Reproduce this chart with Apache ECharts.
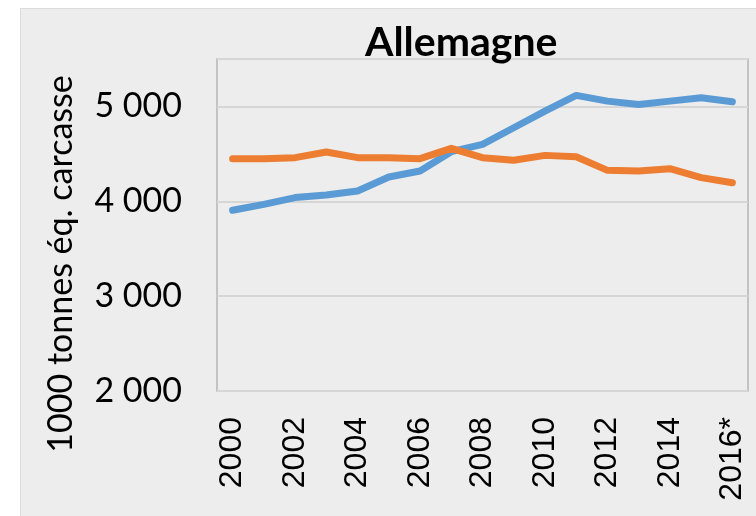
<!DOCTYPE html>
<html>
<head>
<meta charset="utf-8">
<script src="https://cdn.jsdelivr.net/npm/echarts@6/dist/echarts.min.js"></script>
<style>
html, body { margin: 0; padding: 0; background: #ffffff; }
#panel { position: absolute; left: 20px; top: 8px; width: 740px; height: 512px; background: #ededed; border: 1px solid #dcdcdc; }
#chart { position: absolute; left: 0; top: 0; width: 756px; height: 516px; }
</style>
</head>
<body>
<div id="panel"></div>
<div id="chart"></div>
<script>
// années (2016 = estimation)
var years = ['2000', '2001', '2002', '2003', '2004', '2005', '2006', '2007', '2008',
  '2009', '2010', '2011', '2012', '2013', '2014', '2015', '2016*'];
// série bleue
var blueValues = [3905, 3968, 4039, 4067, 4109, 4256, 4319, 4523, 4600,
  4775, 4951, 5116, 5056, 5021, 5056, 5091, 5049];
// série orange
var orangeValues = [4449, 4449, 4460, 4519, 4460, 4460, 4449, 4558, 4460,
  4432, 4484, 4470, 4326, 4319, 4344, 4249, 4196];
var yTicks = [2000, 3000, 4000, 5000];

var myChart = echarts.init(document.getElementById('chart'));

function fmt(v) {
  if (yTicks.indexOf(v) < 0) return '';
  return String(v).replace(/\B(?=(\d{3})+(?!\d))/g, ' ');
}

myChart.setOption({
  backgroundColor: 'transparent',
  animation: false,
  title: {
    text: 'Allemagne',
    left: 360,
    top: 17,
    textStyle: { fontFamily: 'Lato', fontWeight: 'bold', fontSize: 41, color: '#000' }
  },
  graphic: [{
    type: 'text',
    x: 61,
    y: 264,
    rotation: Math.PI / 2,
    style: {
      text: '1000 tonnes éq. carcasse',
      fontFamily: 'Lato',
      fontSize: 34,
      fill: '#000',
      align: 'center',
      verticalAlign: 'middle'
    }
  }],
  grid: {
    left: 217, top: 59, right: 8, bottom: 125,
    show: true,
    borderColor: '#b5b5b5',
    borderWidth: 1.5
  },
  xAxis: {
    type: 'category',
    data: years,
    boundaryGap: true,
    axisLine: { show: false },
    axisTick: { show: false },
    axisLabel: {
      interval: 1,
      rotate: 90,
      margin: 26,
      fontFamily: 'Liberation Sans',
      fontSize: 32,
      color: '#000'
    }
  },
  yAxis: {
    type: 'value',
    min: 2000,
    max: 5500,
    interval: 1000,
    axisLine: { show: false },
    axisTick: { show: false },
    splitLine: { lineStyle: { color: '#d6d6d6', width: 2 } },
    axisLabel: {
      formatter: fmt,
      margin: 35,
      fontFamily: 'Lato',
      fontSize: 34,
      color: '#000'
    }
  },
  series: [
    {
      name: 'bleu',
      type: 'line',
      data: blueValues,
      showSymbol: false,
      lineStyle: { color: '#5b9bd5', width: 7, cap: 'round', join: 'round' },
      itemStyle: { color: '#5b9bd5' }
    },
    {
      name: 'orange',
      type: 'line',
      data: orangeValues,
      showSymbol: false,
      lineStyle: { color: '#ed7d31', width: 7, cap: 'round', join: 'round' },
      itemStyle: { color: '#ed7d31' }
    }
  ]
});
</script>
</body>
</html>
